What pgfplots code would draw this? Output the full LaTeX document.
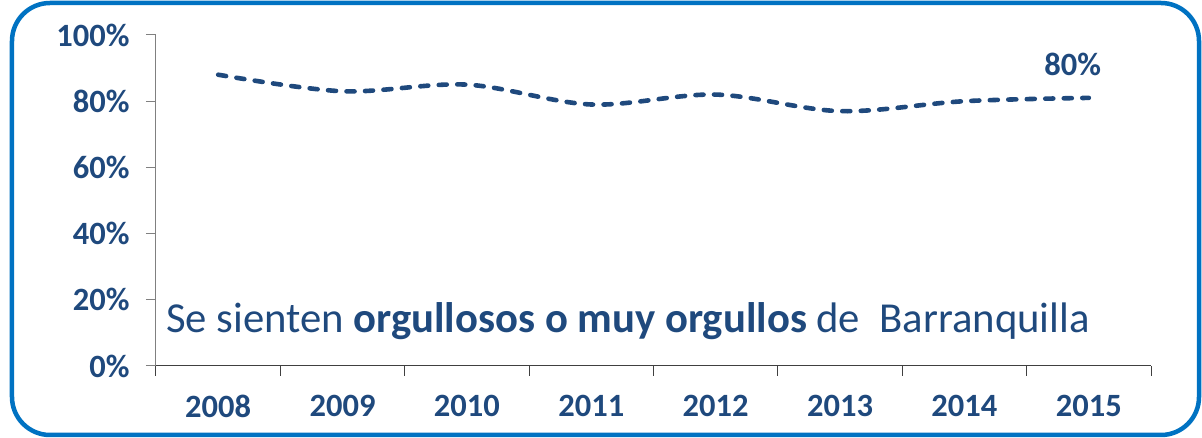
\documentclass[border=0pt]{standalone}
\usepackage{pgfplots}
\pgfplotsset{compat=1.18}
\usepackage{fontspec}
\setmainfont{Carlito}
\definecolor{txt}{RGB}{31,73,125}
\definecolor{frame}{RGB}{0,114,194}
\begin{document}
\begin{tikzpicture}
\useasboundingbox (-156pt,-72pt) rectangle (1046pt,366pt);
\draw[frame, line width=4.5pt, rounded corners=38pt] (-144pt,-69pt) rectangle (1043pt,363pt);
\begin{axis}[
  at={(0pt,0pt)}, anchor=south west,
  scale only axis, width=995pt, height=331pt,
  xmin=-0.5, xmax=7.5, ymin=0, ymax=100,
  axis x line*=bottom, axis y line*=left,
  x axis line style={draw=black!75, line width=1pt},
  y axis line style={draw=black!50, line width=1pt},
  xtick={-0.5,0.5,1.5,2.5,3.5,4.5,5.5,6.5,7.5},
  x tick label as interval,
  xticklabels={2008,2009,2010,2011,2012,2013,2014,2015},
  ytick={0,20,40,60,80,100},
  yticklabel={\pgfmathprintnumber{\tick}\%},
  /pgf/number format/assume math mode=true,
  tick align=outside, major tick length=10pt,
  xtick style={draw=black!75, line width=1pt},
  ytick style={draw=black!50, line width=1pt},
  ticklabel style={font=\bfseries\fontsize{32.5}{38}\selectfont, text=txt},
  xticklabel style={yshift=-16pt},
  yticklabel style={xshift=-13pt},
  clip=false,
]
\addplot[txt, line width=4.6pt, dash pattern=on 8pt off 10.5pt, line cap=round, smooth, tension=0.55]
  coordinates {(0,88)(1,83)(2,85)(3,79)(4,82)(5,77)(6,80)(7,81)};
\node[font=\bfseries\fontsize{32.5}{38}\selectfont, text=txt] at (axis cs:6.87,91) {80\%};
\node[anchor=base west, font=\fontsize{42.7}{50}\selectfont, text=txt, inner sep=0pt] at (rel axis cs:0.01,0.0997)
  {Se sienten \textbf{orgullosos o muy orgullos} de\ \ Barranquilla};
\end{axis}
\end{tikzpicture}
\end{document}
